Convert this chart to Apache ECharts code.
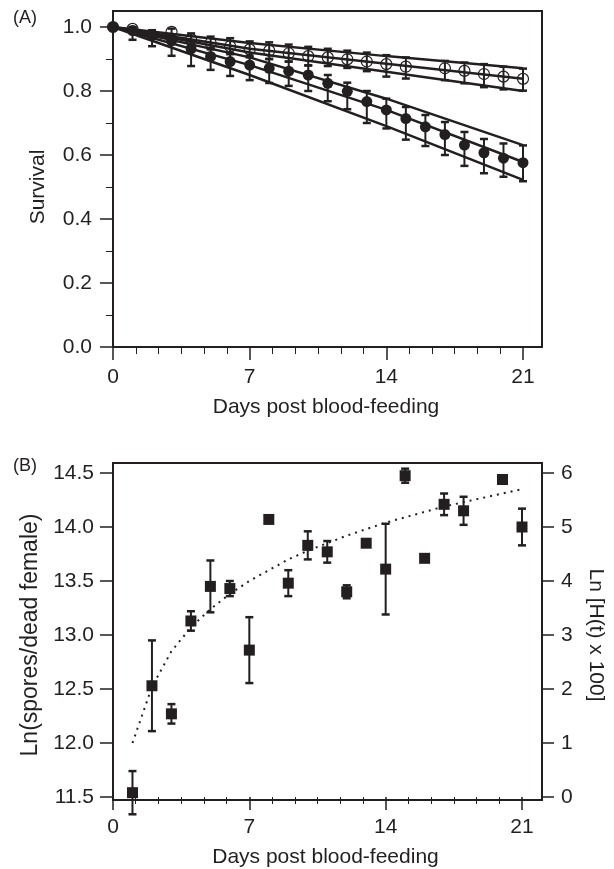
<!DOCTYPE html>
<html><head><meta charset="utf-8">
<script src="https://cdn.jsdelivr.net/npm/echarts@6/dist/echarts.min.js"></script>
<style>html,body{margin:0;padding:0;background:#fff}#c{width:614px;height:869px}</style>
</head><body><div id="c"></div>
<script>
// ---------- Panel A: survival ----------
const deadDays = [0,1,2,3,4,5,6,7,8,9,10,11,12,13,14,15,16,17,18,19,20,21];
const deadVal  = [1.000,0.989,0.975,0.957,0.932,0.908,0.892,0.881,0.871,0.862,0.850,0.824,0.799,0.767,0.741,0.714,0.688,0.664,0.631,0.607,0.590,0.576];
const deadLo   = [1.000,0.960,0.940,0.910,0.878,0.866,0.847,0.834,0.825,0.816,0.800,0.768,0.743,0.700,0.683,0.648,0.628,0.600,0.566,0.543,0.532,0.518];
const deadHi   = [1.000,0.998,0.990,0.975,0.955,0.935,0.920,0.910,0.900,0.892,0.880,0.850,0.826,0.800,0.776,0.750,0.725,0.703,0.672,0.650,0.636,0.630];

const ctrlDays = [0,1,3,4,5,6,7,8,9,10,11,12,13,14,15,17,18,19,20,21];
const ctrlVal  = [1.000,0.994,0.985,0.962,0.950,0.940,0.930,0.926,0.918,0.909,0.905,0.899,0.892,0.884,0.876,0.871,0.863,0.853,0.845,0.838];
const ctrlLo   = [1.000,0.985,0.975,0.945,0.930,0.915,0.905,0.900,0.892,0.880,0.878,0.872,0.862,0.845,0.839,0.834,0.824,0.812,0.805,0.801];
const ctrlHi   = [1.000,1.000,0.995,0.980,0.970,0.965,0.955,0.952,0.945,0.938,0.932,0.926,0.920,0.912,0.905,0.894,0.889,0.884,0.876,0.870];

const fitDays   = [0,7,14,21];
const deadFit   = [1.0,0.881,0.741,0.578];
const deadFitHi = [1.0,0.905,0.776,0.631];
const deadFitLo = [1.0,0.850,0.690,0.522];
const ctrlFit   = [1.0,0.932,0.885,0.838];
const ctrlFitHi = [1.0,0.950,0.909,0.871];
const ctrlFitLo = [1.0,0.920,0.860,0.800];

// ---------- Panel B: spores ----------
const sporeDays = [1,2,3,4,5,6,7,8,9,10,11,12,13,14,15,16,17,18,20,21];
const sporeVal  = [11.54,12.53,12.27,13.13,13.45,13.43,12.86,14.07,13.48,13.83,13.77,13.40,13.85,13.61,14.475,13.71,14.21,14.15,14.44,14.00];
const sporeErr  = [0.20,0.42,0.09,0.09,0.24,0.07,0.305,0,0.12,0.13,0.10,0.06,0.03,0.42,0.065,0,0.10,0.13,0,0.17];

const hazDays = [1,2,3,4,5,6,7,8,9,10,11,12,13,14,15,16,17,18,19,20,21];
const hazVal  = [12.00,12.52,12.85,13.07,13.24,13.38,13.50,13.60,13.70,13.78,13.85,13.92,13.98,14.04,14.09,14.14,14.19,14.23,14.27,14.31,14.35];

// ---------- styling ----------
const INK = '#231f20';
const FONT = 'Liberation Sans';
const txt = {color: INK, fontSize: 21, fontFamily: FONT};

function errRender(params, api) {
  const x = api.value(0), lo = api.value(1), hi = api.value(2);
  if (hi - lo <= 0) return null;
  const p1 = api.coord([x, hi]), p2 = api.coord([x, lo]);
  const w = 4;
  const st = {stroke: INK, lineWidth: 2};
  return {type: 'group', children: [
    {type: 'line', shape: {x1: p1[0], y1: p1[1], x2: p2[0], y2: p2[1]}, style: st},
    {type: 'line', shape: {x1: p1[0]-w, y1: p1[1], x2: p1[0]+w, y2: p1[1]}, style: {stroke: INK, lineWidth: 2.5}},
    {type: 'line', shape: {x1: p2[0]-w, y1: p2[1], x2: p2[0]+w, y2: p2[1]}, style: {stroke: INK, lineWidth: 2.5}}
  ]};
}

function xAxisData(gi) {
  return {
    gridIndex: gi, type: 'value', min: 0, max: 21, interval: 7,
    axisLine: {show: false},
    axisTick: {show: true, length: 13, lineStyle: {color: INK, width: 1.5}},
    minorTick: {show: true, splitNumber: 6, length: 7, lineStyle: {color: INK, width: 1}},
    splitLine: {show: false}, minorSplitLine: {show: false},
    axisLabel: Object.assign({margin: 20}, txt),
    name: 'Days post blood-feeding', nameLocation: 'middle', nameGap: 50,
    nameTextStyle: Object.assign({padding: [0, 0, 0, 16]}, txt)
  };
}
function hiddenAxis(gi) {
  return {gridIndex: gi, type: 'value', show: false, min: 0, max: 1};
}
function fitLine(arr) {
  return {type: 'line', xAxisIndex: 0, yAxisIndex: 0, data: fitDays.map((d,i)=>[d, arr[i]]),
    showSymbol: false, silent: true, lineStyle: {color: INK, width: 2.5}, z: 2};
}

const option = {
  animation: false,
  backgroundColor: '#fff',
  title: [
    {text: '(A)', left: 8, top: 4, textStyle: {fontSize: 18, fontWeight: 'normal', color: INK, fontFamily: FONT}},
    {text: '(B)', left: 8, top: 452, textStyle: {fontSize: 18, fontWeight: 'normal', color: INK, fontFamily: FONT}}
  ],
  grid: [
    {left: 113, top: 27, width: 410, height: 320},
    {left: 113, top: 11, width: 429, height: 336, show: true, borderColor: INK, borderWidth: 2, backgroundColor: 'transparent'},
    {left: 113, top: 473, width: 410, height: 327},
    {left: 113, top: 463, width: 429, height: 337, show: true, borderColor: INK, borderWidth: 2, backgroundColor: 'transparent'}
  ],
  xAxis: [xAxisData(0), hiddenAxis(1), xAxisData(2), hiddenAxis(3)],
  yAxis: [
    {gridIndex: 0, type: 'value', min: 0, max: 1, interval: 0.2,
      axisLine: {show: false},
      axisTick: {show: true, length: 13, lineStyle: {color: INK, width: 1.5}},
      minorTick: {show: true, splitNumber: 2, length: 7, lineStyle: {color: INK, width: 1}},
      splitLine: {show: false}, minorSplitLine: {show: false},
      axisLabel: Object.assign({margin: 21, formatter: v => v.toFixed(1)}, txt),
      name: 'Survival', nameLocation: 'middle', nameGap: 64, nameTextStyle: Object.assign({}, txt)},
    hiddenAxis(1),
    {gridIndex: 2, type: 'value', min: 11.5, max: 14.5, interval: 0.5,
      axisLine: {show: false},
      axisTick: {show: true, length: 13, lineStyle: {color: INK, width: 1.5}},
      splitLine: {show: false},
      axisLabel: Object.assign({margin: 19, formatter: v => v.toFixed(1)}, txt),
      name: 'Ln(spores/dead female)', nameLocation: 'middle', nameGap: 57,
      nameTextStyle: Object.assign({}, txt, {fontSize: 23})},
    {gridIndex: 2, type: 'value', position: 'right', offset: 19, min: 0, max: 6, interval: 1,
      axisLine: {show: false},
      axisTick: {show: true, length: 13, lineStyle: {color: INK, width: 1.5}},
      splitLine: {show: false},
      axisLabel: Object.assign({margin: 20}, txt),
      name: 'Ln [H(t) x 100]', nameLocation: 'middle', nameRotate: -90, nameGap: 44, nameTextStyle: Object.assign({}, txt)},
    hiddenAxis(3)
  ],
  series: [
    fitLine(deadFitHi), fitLine(deadFit), fitLine(deadFitLo),
    fitLine(ctrlFitHi), fitLine(ctrlFit), fitLine(ctrlFitLo),
    {type: 'custom', xAxisIndex: 0, yAxisIndex: 0, renderItem: errRender, clip: false, z: 3,
      encode: {x: 0, y: [1, 2]}, data: ctrlDays.map((d,i)=>[d, ctrlLo[i], ctrlHi[i]])},
    {type: 'custom', xAxisIndex: 0, yAxisIndex: 0, renderItem: errRender, clip: false, z: 3,
      encode: {x: 0, y: [1, 2]}, data: deadDays.map((d,i)=>[d, deadLo[i], deadHi[i]])},
    {type: 'scatter', xAxisIndex: 0, yAxisIndex: 0, symbol: 'circle', symbolSize: 11, z: 4,
      itemStyle: {color: 'rgba(0,0,0,0)', borderColor: INK, borderWidth: 1.2, opacity: 1},
      data: ctrlDays.map((d,i)=>[d, ctrlVal[i]])},
    {type: 'scatter', xAxisIndex: 0, yAxisIndex: 0, symbol: 'circle', symbolSize: 11, z: 5,
      itemStyle: {color: INK, opacity: 1},
      data: deadDays.map((d,i)=>[d, deadVal[i]])},

    {type: 'line', xAxisIndex: 2, yAxisIndex: 2, showSymbol: false, silent: true, z: 2,
      lineStyle: {color: INK, width: 2, type: [2, 5]},
      data: hazDays.map((d,i)=>[d, hazVal[i]])},
    {type: 'custom', xAxisIndex: 2, yAxisIndex: 2, renderItem: errRender, clip: false, z: 3,
      encode: {x: 0, y: [1, 2]}, data: sporeDays.map((d,i)=>[d, sporeVal[i]-sporeErr[i], sporeVal[i]+sporeErr[i]])},
    {type: 'scatter', xAxisIndex: 2, yAxisIndex: 2, symbol: 'rect', symbolSize: 11, z: 4,
      itemStyle: {color: INK, opacity: 1},
      data: sporeDays.map((d,i)=>[d, sporeVal[i]])}
  ]
};
const chart = echarts.init(document.getElementById('c'), null, {renderer: 'canvas'});
chart.setOption(option);
</script>
</body></html>
